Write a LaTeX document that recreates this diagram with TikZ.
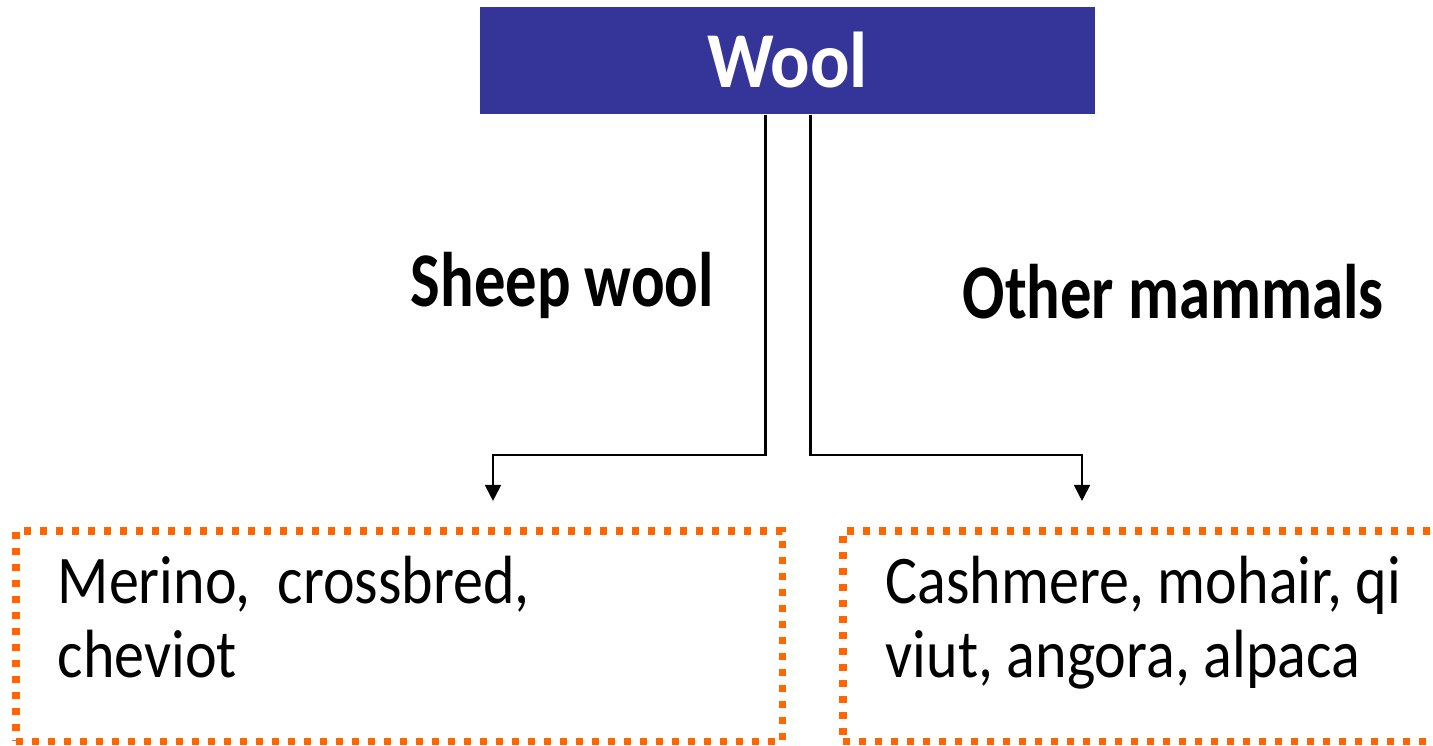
\documentclass[tikz,border=0pt]{standalone}
\usepackage{fontspec}
\setmainfont{Carlito}[FakeStretch=0.88, BoldFeatures={FakeStretch=0.81}]
\newfontfamily\woolfont{Carlito}[FakeStretch=0.93]
\usetikzlibrary{positioning,arrows.meta}
\definecolor{woolblue}{RGB}{53,53,153}
\definecolor{dotorange}{RGB}{255,102,0}
\tikzset{
  titlebox/.style={fill=woolblue, text=white, minimum width=6.15cm, minimum height=1.07cm,
    font={\woolfont\fontsize{22.5pt}{26pt}\selectfont\bfseries}},
  kindbox/.style={draw=dotorange, line width=2pt, dash pattern=on 2pt off 2.55pt,
    minimum height=2.1cm, outer sep=0pt, anchor=north west},
  kindlabel/.style={font={\fontsize{22pt}{26pt}\selectfont\bfseries}, anchor=base west},
  itemtext/.style={font={\fontsize{19.4pt}{21pt}\selectfont}, align=left, anchor=base west},
  link/.style={line width=0.8pt, -{Triangle[width=4.5pt,length=4.6pt]}}}

\begin{document}
\begin{tikzpicture}[x=0.01cm,y=-0.01cm]
\tikzstyle{every node}+=[inner sep=0pt]
\clip (0,0) rectangle (1433,745);
\node[titlebox] (wool) at (787.5,60.5) {Wool};
\node[kindbox, minimum width=7.66cm] (sheepbox) at (16,531) {};
\node[kindbox, minimum width=6.2cm] (otherbox) at (843,531) {};
\node[kindlabel] (sheep) at (410,306) {Sheep wool};
\node[kindlabel] (other) at (962,318) {Other mammals};
\node[itemtext] (sheeplist) at ([shift={(41,146)}]sheepbox.north west) {Merino,\ \ crossbred,\\cheviot};
\node[itemtext] (otherlist) at ([shift={(42,146)}]otherbox.north west) {Cashmere, mohair, qi\\viut, angora, alpaca};
\coordinate (sheeptip) at (493,501);
\coordinate (othertip) at (1082,501);
\draw[link] ([xshift=-0.22cm]wool.south) |- (sheeptip |- 0,455) -- (sheeptip);
\draw[link] ([xshift=0.23cm]wool.south) |- (othertip |- 0,455) -- (othertip);
\end{tikzpicture}
\end{document}
